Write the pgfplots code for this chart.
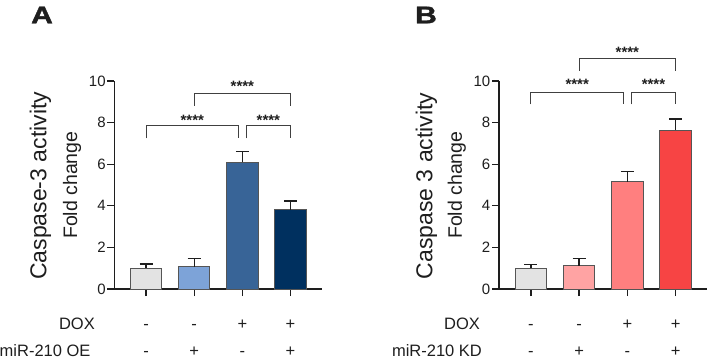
\documentclass[border=0pt]{standalone}
\usepackage{pgfplots}
\pgfplotsset{compat=1.18}
\usepackage{fontspec}
\setmainfont{Liberation Sans}
\newfontfamily\heavy{Liberation Sans Bold}[FakeBold=1.5]

\definecolor{ctrl}{HTML}{E3E3E3}
\definecolor{blueA}{HTML}{7DA3D8}
\definecolor{blueB}{HTML}{386497}
\definecolor{blueC}{HTML}{00305F}
\definecolor{redA}{HTML}{FFA3A3}
\definecolor{redB}{HTML}{FF7F7F}
\definecolor{redC}{HTML}{F74444}
\definecolor{ink}{HTML}{1E1E1E}
\definecolor{edge}{HTML}{555555}
\definecolor{brk}{HTML}{404040}

\pgfplotsset{
  panel/.style={
    scale only axis, width=207.5pt, height=208pt,
    anchor=south west,
    xmin=-0.66, xmax=3.65, ymin=0, ymax=10,
    axis x line=bottom, axis y line=left,
    axis line style={-, line width=1.3pt, ink},
    ytick={0,2,...,10}, xtick={0,1,2,3}, xticklabels={},
    tick style={line width=1.3pt, ink},
    major tick length=7pt, tick align=outside,
    yticklabel style={font=\fontsize{15}{15}\selectfont, text=ink, inner sep=1.5pt},
    /pgf/number format/assume math mode=true,
    clip=false, ybar, bar width=0.65,
  },
  onebar/.style={
    bar shift=0pt, draw=edge, line width=1pt, fill=#1,
    error bars/.cd, y dir=plus, y explicit,
    error bar style={line width=1.3pt, ink},
    error mark options={rotate=90, line width=1.3pt, ink, mark size=6.5pt},
  },
}
\tikzset{
  bracket/.style={draw=brk, line width=1.1pt},
  stars/.style={font=\fontsize{15}{15}\selectfont\bfseries, text=ink},
  rowlab/.style={font=\fontsize{16.5}{16.5}\selectfont, text=ink, anchor=base, inner sep=0pt},
  ylab/.style={rotate=90, anchor=base, text=ink, inner sep=0pt},
  letter/.style={font=\fontsize{24}{24}\heavy, text=ink},
}

\begin{document}
\begin{tikzpicture}
\useasboundingbox (0pt,0pt) rectangle (708pt,-358pt);

% ---------- Panel A: miR-210 overexpression ----------
\node[letter] at (42pt,-15pt) {\scalebox{1.25}[1]{A}};
\begin{axis}[panel, at={(114.3pt,-289pt)}]
  \addplot[onebar=ctrl]  coordinates {(0,1.00) +- (0,0.20)};
  \addplot[onebar=blueA] coordinates {(1,1.07) +- (0,0.40)};
  \addplot[onebar=blueB] coordinates {(2,6.09) +- (0,0.51)};
  \addplot[onebar=blueC] coordinates {(3,3.80) +- (0,0.43)};

  % significance brackets
  \draw[bracket] (axis cs:0,7.24) -- (axis cs:0,7.84) -- (axis cs:1.92,7.84) -- (axis cs:1.92,7.24);
  \draw[bracket] (axis cs:2.08,7.24) -- (axis cs:2.08,7.84) -- (axis cs:3,7.84) -- (axis cs:3,7.24);
  \draw[bracket] (axis cs:1,8.80) -- (axis cs:1,9.40) -- (axis cs:3,9.40) -- (axis cs:3,8.80);
  \node[stars] at (axis cs:0.96,8.10) {****};
  \node[stars] at (axis cs:2.54,8.10) {****};
  \node[stars] at (axis cs:2.00,9.72) {****};

  % axis titles
  \node[ylab, font=\fontsize{23}{23}\selectfont] at (axis cs:-2.07,4.96) {Caspase-3 activity};
  \node[ylab, font=\fontsize{19.5}{19.5}\selectfont] at (axis cs:-1.43,4.99) {Fold change};

  % treatment table
  \node[rowlab, anchor=base east] at (axis cs:-1.06,-1.94) {DOX};
  \node[rowlab, anchor=base east] at (axis cs:-1.15,-3.26) {miR-210 OE};
  \node[rowlab] at (axis cs:0,-1.94) {-};
  \node[rowlab] at (axis cs:1,-1.94) {-};
  \node[rowlab] at (axis cs:2,-1.94) {+};
  \node[rowlab] at (axis cs:3,-1.94) {+};
  \node[rowlab] at (axis cs:0,-3.26) {-};
  \node[rowlab] at (axis cs:1,-3.26) {+};
  \node[rowlab] at (axis cs:2,-3.26) {-};
  \node[rowlab] at (axis cs:3,-3.26) {+};
\end{axis}

% ---------- Panel B: miR-210 knockdown ----------
\node[letter] at (426pt,-15pt) {\scalebox{1.25}[1]{B}};
\begin{axis}[panel, width=208pt, at={(499pt,-289pt)}]
  \addplot[onebar=ctrl] coordinates {(0,1.00) +- (0,0.19)};
  \addplot[onebar=redA] coordinates {(1,1.12) +- (0,0.35)};
  \addplot[onebar=redB] coordinates {(2,5.16) +- (0,0.48)};
  \addplot[onebar=redC] coordinates {(3,7.64) +- (0,0.53)};

  % significance brackets
  \draw[bracket] (axis cs:0,8.88) -- (axis cs:0,9.44) -- (axis cs:1.92,9.44) -- (axis cs:1.92,8.88);
  \draw[bracket] (axis cs:2.09,8.88) -- (axis cs:2.09,9.44) -- (axis cs:3,9.44) -- (axis cs:3,8.88);
  \draw[bracket] (axis cs:1,10.50) -- (axis cs:1,11.09) -- (axis cs:3,11.09) -- (axis cs:3,10.50);
  \node[stars] at (axis cs:0.96,9.82) {****};
  \node[stars] at (axis cs:2.54,9.82) {****};
  \node[stars] at (axis cs:2.00,11.39) {****};

  % axis titles
  \node[ylab, font=\fontsize{23}{23}\selectfont] at (axis cs:-2.04,4.96) {Caspase 3 activity};
  \node[ylab, font=\fontsize{19.5}{19.5}\selectfont] at (axis cs:-1.43,4.99) {Fold change};

  % treatment table
  \node[rowlab, anchor=base east] at (axis cs:-1.05,-1.94) {DOX};
  \node[rowlab, anchor=base east] at (axis cs:-1.01,-3.26) {miR-210 KD};
  \node[rowlab] at (axis cs:0,-1.94) {-};
  \node[rowlab] at (axis cs:1,-1.94) {-};
  \node[rowlab] at (axis cs:2,-1.94) {+};
  \node[rowlab] at (axis cs:3,-1.94) {+};
  \node[rowlab] at (axis cs:0,-3.26) {-};
  \node[rowlab] at (axis cs:1,-3.26) {+};
  \node[rowlab] at (axis cs:2,-3.26) {-};
  \node[rowlab] at (axis cs:3,-3.26) {+};
\end{axis}
\end{tikzpicture}
\end{document}
